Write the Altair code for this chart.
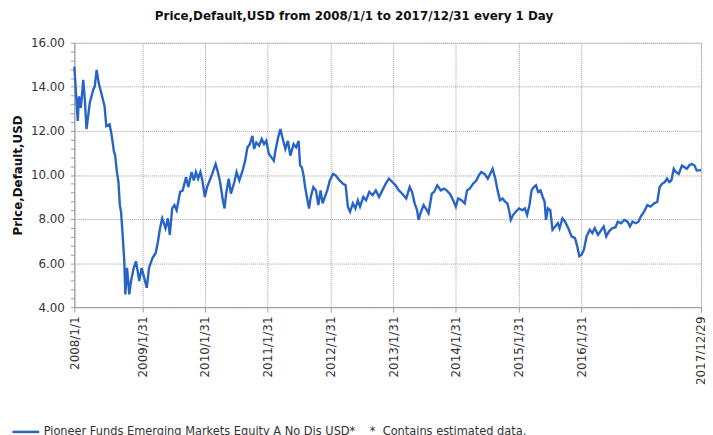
import altair as alt
import pandas as pd

# Offset (years since 2008-01-01) and price
t_years = [0.0, 0.054, 0.074, 0.105, 0.143, 0.168, 0.195, 0.247, 0.301, 0.326, 0.357, 0.389,
           0.431, 0.483, 0.510, 0.562, 0.589, 0.631, 0.652, 0.679, 0.704, 0.726, 0.746, 0.773,
           0.798, 0.814, 0.841, 0.877, 0.904, 0.946, 0.982, 1.009, 1.034, 1.072, 1.113, 1.156,
           1.192, 1.245, 1.297, 1.333, 1.365, 1.403, 1.455, 1.491, 1.522, 1.560, 1.596, 1.633,
           1.686, 1.727, 1.781, 1.817, 1.869, 1.906, 1.938, 1.974, 2.010, 2.042, 2.080, 2.116,
           2.158, 2.199, 2.253, 2.289, 2.325, 2.368, 2.395, 2.420, 2.462, 2.498, 2.552, 2.588,
           2.631, 2.683, 2.725, 2.761, 2.798, 2.840, 2.867, 2.903, 2.946, 2.987, 3.024, 3.060,
           3.103, 3.144, 3.182, 3.207, 3.249, 3.286, 3.323, 3.364, 3.407, 3.443, 3.497, 3.538,
           3.575, 3.600, 3.627, 3.654, 3.679, 3.717, 3.742, 3.769, 3.811, 3.852, 3.890, 3.926,
           3.958, 3.994, 4.032, 4.073, 4.126, 4.167, 4.230, 4.284, 4.325, 4.362, 4.398, 4.441,
           4.482, 4.520, 4.556, 4.608, 4.651, 4.703, 4.756, 4.808, 4.860, 4.913, 4.965, 5.017,
           5.071, 5.123, 5.175, 5.228, 5.291, 5.348, 5.386, 5.427, 5.464, 5.490, 5.527, 5.568,
           5.622, 5.647, 5.701, 5.737, 5.789, 5.842, 5.894, 5.937, 5.989, 6.041, 6.083, 6.119,
           6.173, 6.225, 6.261, 6.304, 6.356, 6.409, 6.450, 6.488, 6.540, 6.592, 6.630, 6.670,
           6.713, 6.749, 6.787, 6.828, 6.870, 6.906, 6.933, 6.960, 6.996, 7.039, 7.091, 7.143,
           7.185, 7.221, 7.259, 7.291, 7.327, 7.363, 7.395, 7.432, 7.469, 7.500, 7.520, 7.552,
           7.590, 7.626, 7.668, 7.709, 7.736, 7.783, 7.826, 7.878, 7.930, 7.983, 8.019, 8.051,
           8.087, 8.125, 8.166, 8.220, 8.260, 8.298, 8.350, 8.402, 8.440, 8.481, 8.523, 8.575,
           8.629, 8.665, 8.717, 8.770, 8.822, 8.859, 8.901, 8.953, 8.996, 9.032, 9.085, 9.137,
           9.189, 9.243, 9.296, 9.332, 9.372, 9.416, 9.452, 9.488, 9.520, 9.558, 9.594, 9.636,
           9.688, 9.731, 9.767, 9.803, 9.846, 9.888, 9.924, 9.993]

prices = [14.92, 12.45, 13.57, 13.05, 14.32, 13.42, 12.08, 13.27, 13.87, 14.02, 14.77, 14.17,
          13.72, 13.12, 12.22, 12.30, 11.92, 11.10, 10.88, 10.13, 9.68, 8.63, 8.33, 7.21,
          6.08, 4.58, 5.78, 4.58, 5.18, 5.78, 6.08, 5.63, 5.18, 5.78, 5.33, 4.88,
          5.78, 6.23, 6.46, 6.98, 7.58, 8.03, 7.58, 8.03, 7.28, 8.48, 8.63, 8.40,
          9.23, 9.30, 9.90, 9.45, 10.13, 9.75, 10.13, 9.83, 10.13, 9.75, 9.00, 9.45,
          9.75, 10.05, 10.50, 10.13, 9.68, 8.85, 8.48, 9.15, 9.83, 9.15, 9.68, 10.13,
          9.75, 10.20, 10.65, 11.25, 11.40, 11.77, 11.18, 11.47, 11.33, 11.63, 11.40, 11.55,
          10.95, 10.80, 10.65, 11.10, 11.70, 12.08, 11.63, 11.18, 11.55, 10.88, 11.40, 11.25,
          11.55, 10.43, 10.35, 9.98, 9.45, 8.85, 8.48, 9.00, 9.45, 9.30, 8.63, 9.30,
          8.71, 9.00, 9.30, 9.75, 10.05, 9.98, 9.75, 9.60, 9.53, 8.56, 8.33, 8.71,
          8.48, 8.85, 8.56, 9.00, 8.85, 9.23, 9.08, 9.30, 9.00, 9.30, 9.60, 9.83,
          9.68, 9.53, 9.30, 9.15, 8.93, 9.45, 9.23, 8.71, 8.40, 7.96, 8.33, 8.63,
          8.40, 8.26, 9.15, 9.23, 9.53, 9.30, 9.38, 9.30, 9.15, 8.85, 8.56, 8.93,
          8.85, 8.71, 9.30, 9.38, 9.60, 9.75, 9.98, 10.13, 10.05, 9.83, 10.05, 10.28,
          9.83, 9.30, 8.85, 8.93, 8.78, 8.71, 8.40, 7.96, 8.18, 8.33, 8.48, 8.40,
          8.48, 8.18, 8.63, 9.30, 9.45, 9.53, 9.23, 9.30, 9.00, 8.78, 7.96, 8.48,
          8.40, 7.51, 7.66, 7.81, 7.58, 8.03, 7.88, 7.58, 7.21, 7.13, 6.76, 6.31,
          6.38, 6.61, 7.21, 7.51, 7.36, 7.58, 7.28, 7.51, 7.66, 7.21, 7.43, 7.58,
          7.63, 7.88, 7.81, 7.96, 7.88, 7.66, 7.88, 7.81, 7.88, 8.11, 8.33, 8.63,
          8.56, 8.71, 8.78, 9.45, 9.60, 9.68, 9.83, 9.68, 9.75, 10.28, 10.13, 10.05,
          10.43, 10.35, 10.28, 10.43, 10.50, 10.43, 10.20, 10.22]

series_name = "Pioneer Funds Emerging Markets Equity A No Dis USD*\u00a0\u00a0\u00a0\u00a0*\u00a0\u00a0Contains estimated data."

x_tick_dates = [(2008, 1, 1), (2009, 1, 31), (2010, 1, 31), (2011, 1, 31), (2012, 1, 31),
                (2013, 1, 31), (2014, 1, 31), (2015, 1, 31), (2016, 1, 31), (2017, 12, 29)]
y_ticks = [round(4 + 0.4 * i, 1) for i in range(31)]

title_text = "Price,Default,USD from 2008/1/1 to 2017/12/31 every 1 Day"
y_title = "Price,Default,USD"

start = pd.Timestamp("2008-01-01")
dates = [start + pd.Timedelta(days=round(t * 365.25)) for t in t_years]
df = pd.DataFrame({"date": dates, "price": prices, "series": series_name})

FONT = "DejaVu Sans"

x_axis = alt.Axis(
    values=[alt.DateTime(year=y, month=m, date=d) for (y, m, d) in x_tick_dates],
    format="%Y/%-m/%-d",
    labelAngle=-90,
    labelFlush=False,
    labelOverlap=False,
    labelBound=False,
    labelFont=FONT,
    labelFontSize=12,
    labelColor="#333333",
    labelPadding=4,
    tickSize=5,
    tickColor="#9a9aa6",
    domainColor="#9a9aa6",
    grid=True,
    gridDash=[1, 1],
    gridColor="#a0a0a0",
    title=None,
)

y_axis = alt.Axis(
    values=y_ticks,
    labelExpr="abs(datum.value - round(datum.value / 2) * 2) < 0.01 ? format(datum.value, '.2f') : ''",
    gridOpacity={"condition": {"test": "abs(datum.value - round(datum.value / 2) * 2) < 0.01", "value": 1}, "value": 0},
    labelFont=FONT,
    labelFontSize=12,
    labelColor="#333333",
    labelPadding=6,
    tickSize=4,
    tickColor="#9a9aa6",
    domainColor="#9a9aa6",
    gridDash=[1, 1],
    gridColor="#a0a0a0",
    title=y_title,
    titleFont=FONT,
    titleFontSize=12,
    titleFontWeight="bold",
    titleColor="#111111",
    titlePadding=6,
    labelOverlap=False,
)

chart = (
    alt.Chart(df)
    .mark_line(strokeWidth=2.4, interpolate="linear")
    .encode(
        x=alt.X("date:T", axis=x_axis,
                scale=alt.Scale(domain=[alt.DateTime(year=2008, month=1, date=1),
                                        alt.DateTime(year=2017, month=12, date=29)], nice=False)),
        y=alt.Y("price:Q", axis=y_axis, scale=alt.Scale(domain=[4, 16], nice=False, zero=False)),
        color=alt.Color(
            "series:N",
            scale=alt.Scale(range=["#2864c8"]),
            legend=alt.Legend(
                title=None,
                orient="none",
                legendX=-64,
                legendY=378,
                symbolType="stroke",
                symbolSize=729,
                symbolStrokeWidth=2.5,
                labelFont=FONT,
                labelFontSize=11.5,
                labelColor="#333333",
                labelLimit=1000,
                labelOffset=3,
            ),
        ),
    )
    .properties(
        width=633,
        height=267,
        title=alt.Title(title_text, font=FONT, fontSize=12, fontWeight="bold", color="#111111",
                        anchor="middle", dx=-34, offset=14),
        autosize=alt.AutoSizeParams(type="none"),
        padding={"left": 67, "top": 33, "right": 4, "bottom": 127},
    )
    .configure_view(stroke="#9a9aa6", strokeWidth=1)
    .configure(background="white")
)

chart.save("out.html", embed_options={"renderer": "svg", "actions": False})
